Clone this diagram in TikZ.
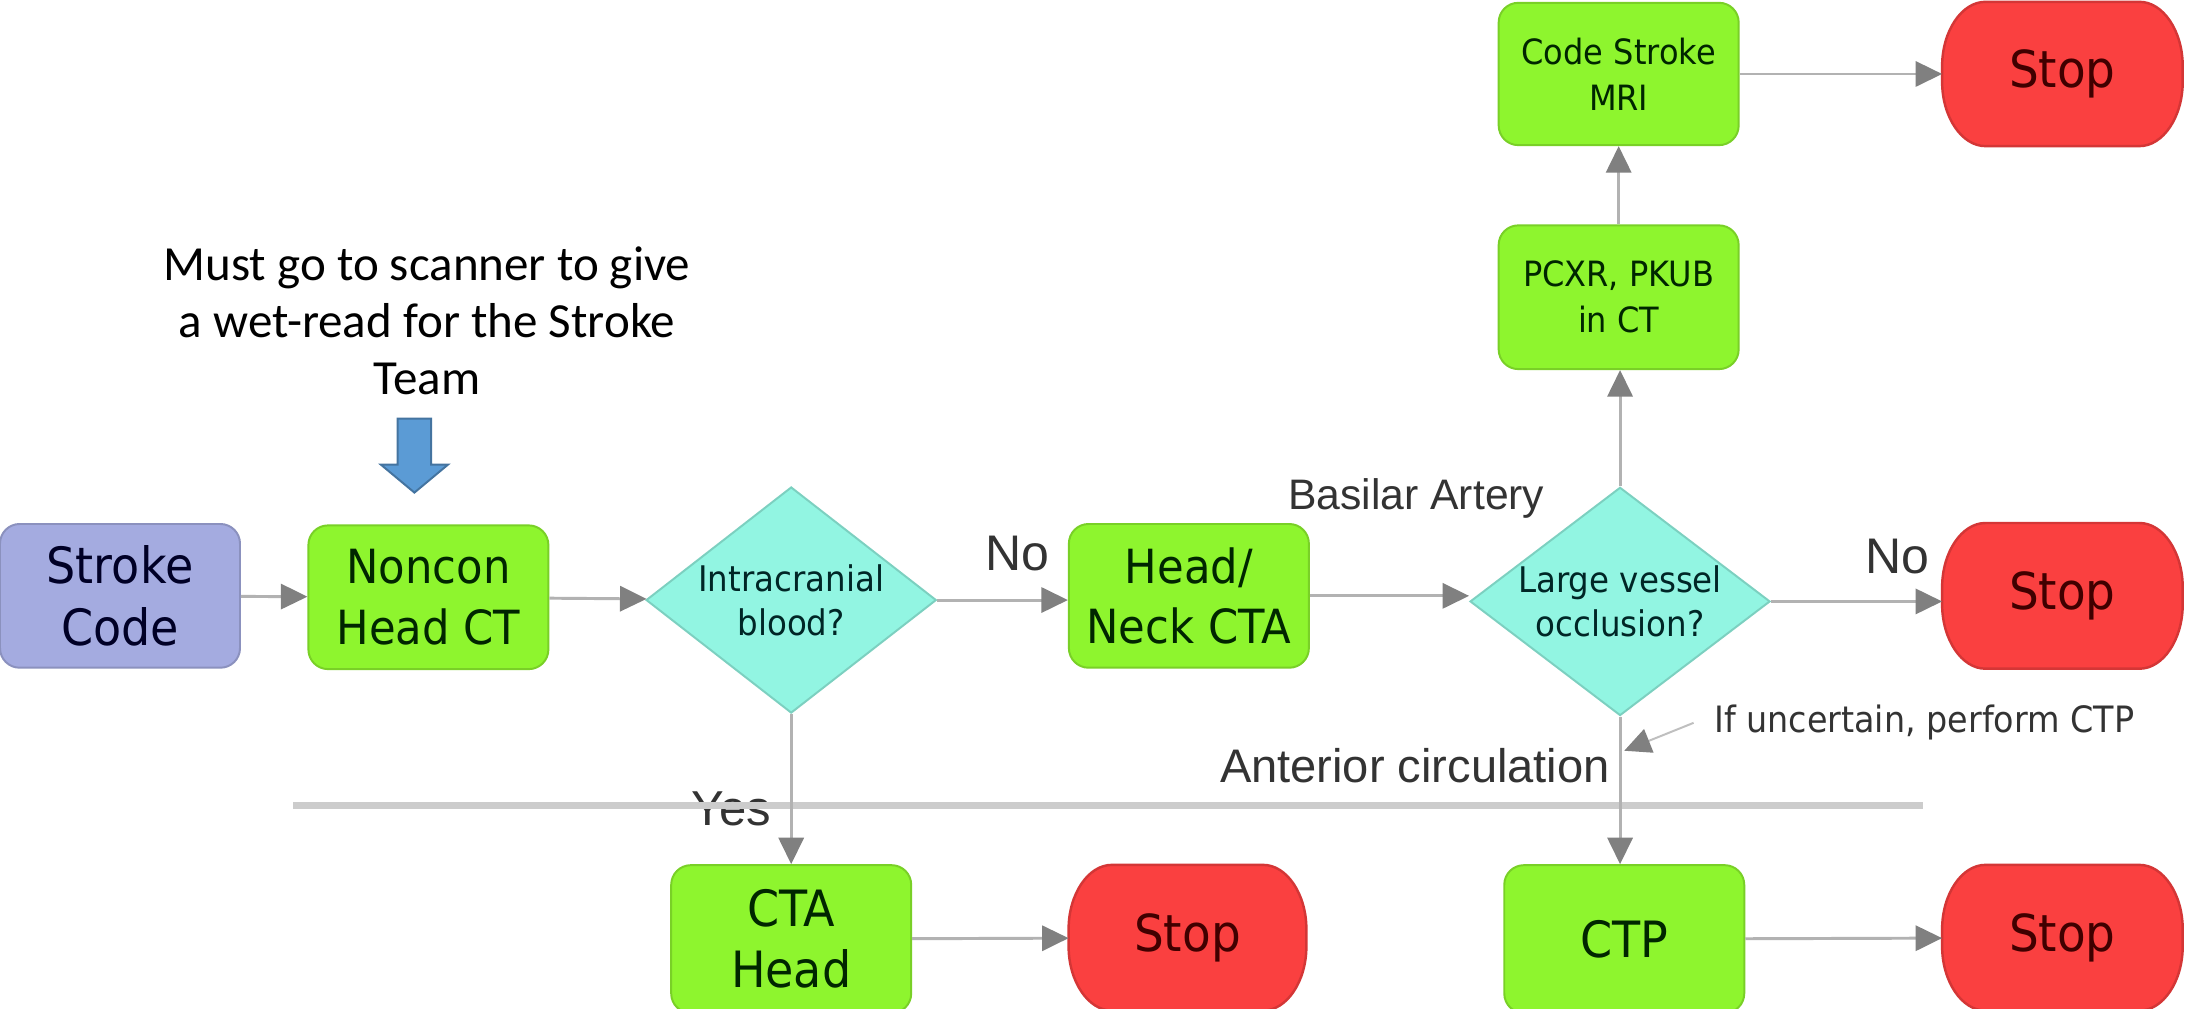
\documentclass[tikz,border=0pt]{standalone}
\usepackage{fontspec}
\setmainfont{Carlito}
\newfontfamily\boxfont[FakeStretch=0.92]{DejaVu Sans}
\newfontfamily\lblfont{Liberation Sans}
\usetikzlibrary{shapes.geometric, arrows.meta, calc, backgrounds}

\definecolor{boxgreen}{RGB}{142,245,46}
\definecolor{startblue}{RGB}{164,171,224}
\definecolor{askcyan}{RGB}{146,245,226}
\definecolor{stopred}{RGB}{250,64,64}
\definecolor{hintblue}{RGB}{91,155,213}

\begin{document}
\begin{tikzpicture}[x=0.1mm, y=-0.1mm]
\tikzset{proc/.style={draw=boxgreen!85!black, fill=boxgreen, rounded corners=4pt, minimum width=1.72cm, minimum height=1.03cm,
           inner sep=0pt, align=center, text=green!15!black, font=\boxfont\fontsize{9.6}{12.3}\selectfont},
         big/.style={font=\boxfont\fontsize{10.2}{12.5}\selectfont},
         small/.style={font=\boxfont\fontsize{7.1}{9.4}\selectfont},
         start/.style={proc, big, draw=startblue!85!black, fill=startblue, text=blue!15!black},
         ask/.style={diamond, draw=askcyan!85!black, fill=askcyan, aspect=1.3, minimum width=2.08cm, minimum height=1.62cm,
           inner sep=0pt, align=center, text=teal!30!black, font=\boxfont\fontsize{7.2}{9}\selectfont},
         stopnode/.style={minimum width=1.71cm, minimum height=1.03cm, inner sep=0pt, text=red!25!black,
           font=\boxfont\fontsize{10.4}{12}\selectfont},
         stopfill/.style={fill=stopred, draw=stopred!85!black, line width=0.5pt},
         flow/.style={draw=gray!60, line width=0.6pt, -{Triangle[length=1.9mm, width=1.8mm, color=gray]}},
         lbl/.style={inner sep=0pt, text=black!80, font=\lblfont\fontsize{9.2}{11}\selectfont},
         divider/.style={draw=gray!40, line width=1.4pt}}
\useasboundingbox (0,0) rectangle (1568,723);

% main row
\node[start] (code) at (86,427) {Stroke\\Code};
\node[proc] (noncon) at (307,428) {Noncon\\Head CT};
\node[ask] (blood) at (567,430) {Intracranial\\blood?};
\node[proc] (neck) at (852,427) {Head/\\Neck CTA};
\node[ask, minimum width=2.15cm] (lvo) at (1161,431) {Large vessel\\occlusion?};
\node[stopnode] (stopA) at (1478,427) {Stop};

% basilar branch
\node[proc, small] (pcxr) at (1160,213) {PCXR, PKUB\\in CT};
\node[proc, small, minimum height=1.02cm] (mri) at (1160,53) {Code Stroke\\MRI};
\node[stopnode, minimum height=1.02cm] (stopB) at (1478,53) {Stop};

% bottom row
\node[proc, big, minimum height=1.06cm] (ctahead) at (567,673) {CTA\\Head};
\node[stopnode, minimum width=1.69cm, minimum height=1.03cm] (stopC) at (851,672) {Stop};
\node[proc, big, minimum height=1.06cm] (ctp) at (1164,673) {CTP};
\node[stopnode, minimum height=1.03cm] (stopD) at (1478,672) {Stop};

% stop outlines, behind the text
\begin{scope}[on background layer]
\fill[white] (0,0) rectangle (1568,723);
\foreach \s in {stopA,stopB,stopC,stopD}
  \filldraw[stopfill] ($(\s.north west)+(31,0)$) -- ($(\s.north east)+(-31,0)$)
    .. controls +(17,0) and +(0,-25) .. ($(\s.north east)+(0,46)$) -- ($(\s.south east)+(0,-46)$)
    .. controls +(0,25) and +(17,0) .. ($(\s.south east)+(-31,0)$) -- ($(\s.south west)+(31,0)$)
    .. controls +(-17,0) and +(0,25) .. ($(\s.south west)+(0,-46)$) -- ($(\s.north west)+(0,46)$)
    .. controls +(0,-25) and +(-17,0) .. ($(\s.north west)+(31,0)$) -- cycle;
\end{scope}

% note
\node[align=center, font=\fontsize{10}{11.6}\selectfont] (note) at (306,230) {Must go to scanner to give\\a wet-read for the Stroke\\Team};
\coordinate (hint) at (297,353);
\filldraw[fill=hintblue, draw=hintblue!75!black, line width=0.4pt] (hint) -- ++(-24,-20) -- ++(12,0) -- ++(0,-33)
  -- ++(24,0) -- ++(0,33) -- ++(12,0) -- cycle;

% labels
\node[lbl, font=\lblfont\fontsize{10.2}{12}\selectfont] (no1) at (729,397) {No};
\node[lbl, font=\lblfont\fontsize{10.2}{12}\selectfont] (no2) at (1360,399) {No};
\node[lbl, font=\lblfont\fontsize{10}{12}\selectfont] (yes) at (524,580) {Yes};
\node[lbl, font=\lblfont\fontsize{8.7}{11}\selectfont] (basilar) at (1015,357) {Basilar Artery};
\node[lbl, font=\lblfont\fontsize{9.6}{11}\selectfont] (anterior) at (1014,549) {Anterior circulation};
\node[lbl, text=black!80, font=\boxfont\fontsize{7.4}{9}\selectfont] (uncertain) at (1379,518) {If uncertain, perform CTP};
\coordinate (ctpjoin) at (1164,538);

\draw[divider] (210,577) -- (1378,577);

\draw[flow] (code) -- (noncon);
\draw[flow] (noncon) -- (blood);
\draw[flow] (blood.east) -- (blood.east -| neck.west);
\draw[flow] (neck.east) -- (neck.east -| lvo.west);
\draw[flow] (lvo.east) -- (lvo.east -| stopA.west);
\draw[flow] (lvo.north) -- (lvo.north |- pcxr.south);
\draw[flow] (pcxr) -- (mri);
\draw[flow] (mri) -- (stopB);
\draw[flow] (blood.south) -- (blood.south |- ctahead.north);
\draw[flow] (lvo.south) -- (lvo.south |- ctp.north);
\draw[flow] (ctahead) -- (stopC);
\draw[flow] (ctp) -- (stopD);
\draw[flow, draw=gray!50, line width=0.4pt] ([xshift=-4pt]uncertain.west) -- (ctpjoin);
\end{tikzpicture}
\end{document}
